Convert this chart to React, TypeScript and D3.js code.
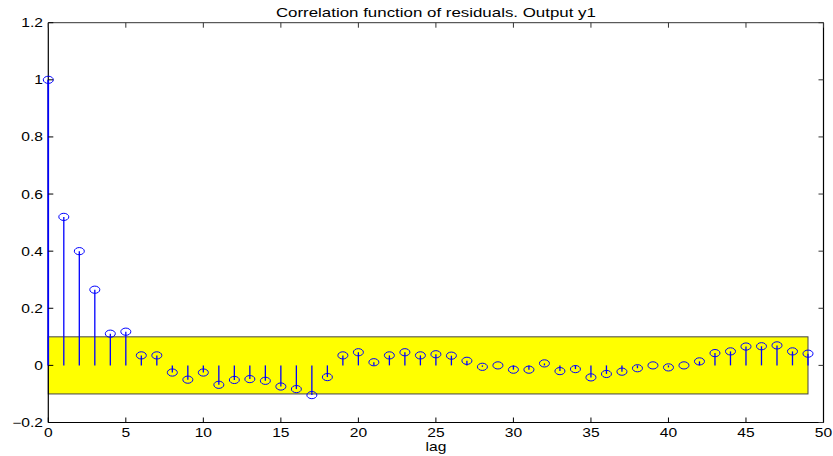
import React from "react";
import * as d3 from "d3";

const lags: number[] = Array.from({ length: 50 }, (_, i) => i);
const corr: number[] = [
  1.0, 0.52, 0.40, 0.265, 0.111, 0.118, 0.035, 0.035, -0.025, -0.05,
  -0.025, -0.068, -0.051, -0.048, -0.054, -0.074, -0.083, -0.104, -0.041, 0.035,
  0.046, 0.011, 0.035, 0.046, 0.035, 0.039, 0.034, 0.016, -0.005, 0.0,
  -0.015, -0.015, 0.007, -0.02, -0.013, -0.042, -0.030, -0.022, -0.01, 0.0,
  -0.007, 0.0, 0.014, 0.043, 0.049, 0.066, 0.067, 0.070, 0.049, 0.041,
];
const confBand: number[] = [-0.1, 0.1];
const bandLags: number[] = [0, 49];
const xTicks: number[] = [0, 5, 10, 15, 20, 25, 30, 35, 40, 45, 50];
const yTicks: number[] = [-0.2, 0, 0.2, 0.4, 0.6, 0.8, 1, 1.2];
const title = "Correlation function of residuals. Output y1";
const xLabel = "lag";

export default function App() {
  const W = 833, H = 456;
  const left = 48.3, right = 823.5, top = 22.7, bottom = 422.5;
  const x = d3.scaleLinear().domain([0, 50]).range([left, right]);
  const y = d3.scaleLinear().domain([-0.2, 1.2]).range([bottom, top]);
  const tl = 5;
  const sx = 1.3;
  const font = "'Liberation Sans', Arial, Helvetica, sans-serif";
  const fmt = (v: number) => (v === 0 ? "0" : v === 1 ? "1" : v < 0 ? "\u22120." + String(Math.abs(v)).split(".")[1] : String(v));
  const T = (px: number, py: number, s: string, anchor: string, size: number, key?: string) => (
    <text key={key} transform={`translate(${px},${py}) scale(${sx},1)`} textAnchor={anchor} fontFamily={font} fontSize={size} fill="#000">{s}</text>
  );
  return (
    <svg width={W} height={H} style={{ position: "absolute", left: 0, top: 0, background: "#fff" }}>
      <rect x={0} y={0} width={W} height={H} fill="#fff" />
      <rect
        x={x(bandLags[0])}
        y={y(confBand[1])}
        width={x(bandLags[1]) - x(bandLags[0])}
        height={y(confBand[0]) - y(confBand[1])}
        fill="#ffff00"
        stroke="#444"
        strokeWidth={1}
      />
      {lags.map((l, i) => (
        <line key={"s" + i} x1={x(l)} x2={x(l)} y1={y(0)} y2={y(corr[i])} stroke="#0000ff" strokeWidth={1.3} />
      ))}
      <line x1={left} x2={right} y1={top} y2={top} stroke="#333" strokeWidth={1} />
      <line x1={right} x2={right} y1={top} y2={bottom} stroke="#000" strokeWidth={1.2} />
      <line x1={left} x2={right} y1={bottom} y2={bottom} stroke="#000" strokeWidth={1.2} />
      <line x1={left} x2={left} y1={top} y2={bottom} stroke="#000" strokeWidth={1.2} />
      <line x1={x(0)} x2={x(0)} y1={y(0)} y2={y(corr[0])} stroke="#0000ff" strokeWidth={1.6} />
      {lags.map((l, i) => (
        <ellipse key={"m" + i} cx={x(l)} cy={y(corr[i])} rx={5} ry={3.6} fill="none" stroke="#0000ff" strokeWidth={1} />
      ))}
      {xTicks.map((t) => (
        <g key={"xt" + t}>
          <line x1={x(t)} x2={x(t)} y1={bottom} y2={bottom - tl} stroke="#000" />
          <line x1={x(t)} x2={x(t)} y1={top} y2={top + tl} stroke="#333" />
          {T(x(t), 436.5, String(t), "middle", 12)}
        </g>
      ))}
      {yTicks.map((t) => (
        <g key={"yt" + t}>
          <line x1={left} x2={left + tl} y1={y(t)} y2={y(t)} stroke="#000" />
          <line x1={right} x2={right - tl} y1={y(t)} y2={y(t)} stroke="#333" />
          {T(43, y(t) + 4.5, fmt(t), "end", 12)}
        </g>
      ))}
      {T((left + right) / 2, 451, xLabel, "middle", 12)}
      {T((left + right) / 2, 16.5, title, "middle", 13)}
    </svg>
  );
}
